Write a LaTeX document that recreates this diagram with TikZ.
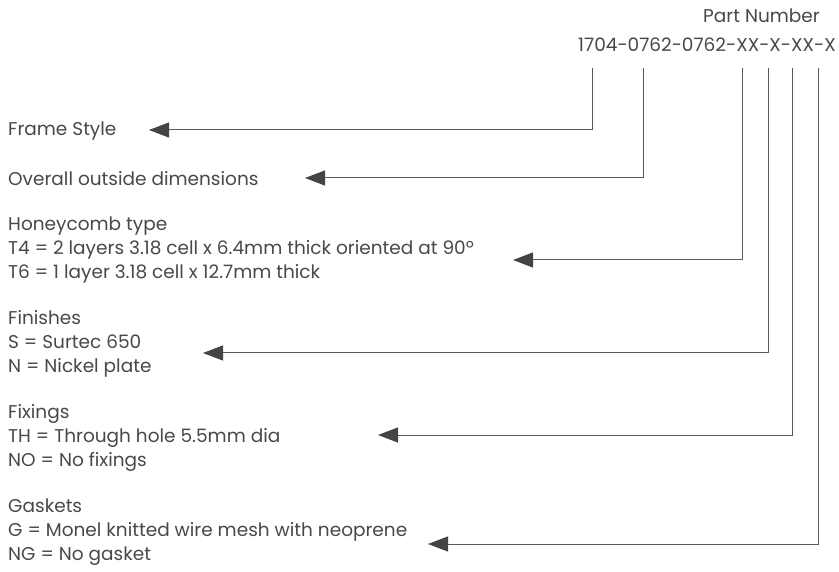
\documentclass[tikz,border=0pt]{standalone}
\usepackage{fontspec}
\usepackage{tikz}
\usetikzlibrary{arrows.meta}
\setmainfont{Poppins}
\definecolor{labeltext}{HTML}{484848}
\definecolor{leadline}{HTML}{5A5A5A}
\definecolor{tipfill}{HTML}{444444}

\tikzset{
  label/.style={anchor=west, inner sep=0pt, align=left, text=labeltext,
    font=\fontsize{18.5}{23.8}\selectfont},
  leader/.style={draw=leadline, line width=1pt,
    -{Triangle[length=20pt, width=15pt, fill=tipfill, color=tipfill]}}
}

\begin{document}
\begin{tikzpicture}[x=1pt, y=-1pt]
        \useasboundingbox (0,0) rectangle (839,572);
        % Part number heading
        \node[label, anchor=east] (pnhead) at (820,16) {Part Number};
        \node[label, anchor=east] (pn) at (836,45) {1704-0762-0762-XX-X-XX-X};
        % Descriptions
        \node[label] (frame) at (8,131) {Frame Style};
        \node[label] (dims) at (8,179) {Overall outside dimensions};
        \node[label] (honey) at (8,250) {Honeycomb type\\
            T4 = 2 layers 3.18 cell x 6.4mm thick oriented at 90º\\
            T6 = 1 layer 3.18 cell x 12.7mm thick};
        \node[label] (finish) at (8,344) {Finishes\\S = Surtec 650\\N = Nickel plate};
        \node[label] (fixing) at (8,438) {Fixings\\TH = Through hole 5.5mm dia\\NO = No fixings};
        \node[label] (gasket) at (8,532) {Gaskets\\G = Monel knitted wire mesh with neoprene\\NG = No gasket};
        % Top ends of the leaders
        \coordinate (t1) at (592,68);
        \coordinate (t2) at (643,68);
        \coordinate (t3) at (742,68);
        \coordinate (t4) at (768,68);
        \coordinate (t5) at (792,68);
        \coordinate (t6) at (818,68);
        % Arrow tips
        \coordinate (a1) at (149,130);
        \coordinate (a2) at (305,178);
        \coordinate (a3) at (513,260);
        \coordinate (a4) at (203,353);
        \coordinate (a5) at (378,435);
        \coordinate (a6) at (428,544);
        % Leaders
        \draw[leader] (t1) |- (a1);
        \draw[leader] (t2) |- (a2);
        \draw[leader] (t3) |- (a3);
        \draw[leader] (t4) |- (a4);
        \draw[leader] (t5) |- (a5);
        \draw[leader] (t6) |- (a6);
    \end{tikzpicture}
\end{document}
